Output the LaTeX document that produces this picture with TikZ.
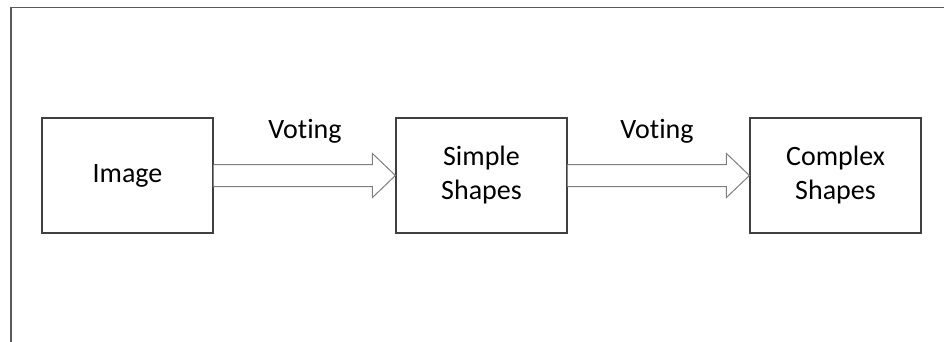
\documentclass[tikz,border=0pt]{standalone}
\usepackage{fontspec}
\setmainfont[Ligatures=NoCommon]{Carlito}
\usetikzlibrary{calc}
\definecolor{frameline}{HTML}{5A5A5A}
\definecolor{boxline}{HTML}{404040}
\definecolor{arrowline}{HTML}{7F7F7F}
\tikzset{
  stagebox/.style={draw=boxline, line width=1.1pt, minimum width=171pt, minimum height=115pt,
    align=center, font=\fontsize{28}{34}\selectfont, inner sep=0pt},
  votelabel/.style={font=\fontsize{28}{34}\selectfont, inner sep=0pt},
  blockarrow/.style={draw=arrowline, fill=white, line width=1pt, line join=miter}
}
\newcommand{\blockarrowpath}[2]{%
  \draw[blockarrow]
    ($(#1.east)+(0,-11)$) -- ($(#2.west)+(-23,-11)$) -- ($(#2.west)+(-23,-22)$)
    -- (#2.west) -- ($(#2.west)+(-23,22)$) -- ($(#2.west)+(-23,11)$)
    -- ($(#1.east)+(0,11)$);}
\begin{document}
\begin{tikzpicture}[x=1pt, y=-1pt]
  \useasboundingbox (0,0) rectangle (944,342);
  % frame lines along the top and left
  \draw[frameline, line width=1.4pt] (10,7.5) -- (944,7.5);
  \draw[frameline, line width=1.7pt] (11,7) -- (11,342);
  % stages
  \node[stagebox] (img) at (127.5,175.5) {Image};
  \node[stagebox] (simple) at (481.5,175.5) {Simple\\Shapes};
  \node[stagebox] (complex) at (835.5,175.5) {Complex\\Shapes};
  % block arrows between the stages
  \blockarrowpath{img}{simple}
  \blockarrowpath{simple}{complex}
  % arrow labels
  \node[votelabel] (v1) at (305,131) {Voting};
  \node[votelabel] (v2) at (657,131) {Voting};
\end{tikzpicture}
\end{document}
